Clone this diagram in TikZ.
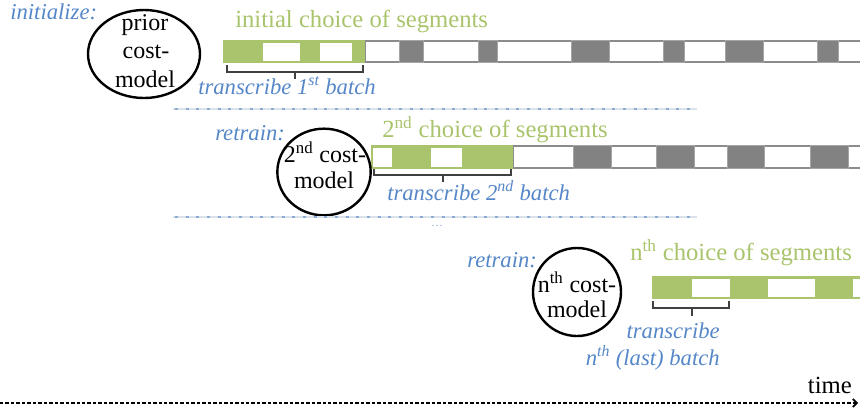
\documentclass[tikz,border=0pt]{standalone}
\usepackage{fontspec}
\setmainfont{Liberation Serif}
\usetikzlibrary{shapes.geometric,arrows.meta}
\definecolor{seggreen}{RGB}{169,196,108}
\definecolor{txtblue}{RGB}{85,135,200}
\definecolor{blockgray}{RGB}{130,130,130}
\definecolor{blockedge}{RGB}{165,165,165}
\definecolor{barline}{RGB}{140,140,140}
\definecolor{seplight}{RGB}{218,226,236}
\definecolor{sepdash}{RGB}{140,170,212}
\tikzset{
  lbl/.style={font=\fontsize{18.5}{21}\selectfont, inner sep=0pt, anchor=base west},
  bluelbl/.style={lbl, text=txtblue, font=\fontsize{17}{21}\selectfont\itshape},
  greenlbl/.style={lbl, text=seggreen},
  blacklbl/.style={font=\fontsize{18}{21}\selectfont, inner sep=0pt, anchor=base},
  costmodel/.style={draw=black, line width=1.8pt, ellipse, inner sep=0pt},
  grayblock/.style={fill=blockgray, draw=blockedge, line width=0.7pt},
  baroutline/.style={draw=barline, line width=1.5pt},
  bracepath/.style={draw=black!75, line width=0.8pt},
  sepbase/.style={draw=seplight, line width=1.3pt},
  sepdashes/.style={draw=sepdash, line width=1.3pt, dash pattern=on 2.2pt off 5.8pt},
  timeline/.style={draw=black, line width=0.8pt, dash pattern=on 2.6pt off 1.5pt,
    -{Straight Barb[length=3pt,width=6pt,line width=1.3pt]}}
}
\begin{document}
\begin{tikzpicture}[x=0.75pt,y=-0.75pt]
\useasboundingbox (0,0) rectangle (860,412);

% ---------- row 1 ----------
\fill[white] (364,40) rectangle (860,63);
\draw[baroutline] (860,41) -- (365,41) -- (365,62) -- (860,62);
\foreach \a/\b in {399/423,478/497,571/609,663/684,725/763,817/838}
  \draw[grayblock] (\a,40.5) rectangle (\b,62.5);
\fill[seggreen] (223,40) rectangle (365,63);
\fill[white] (263,43) rectangle (300,61);
\fill[white] (320,43) rectangle (352,61);
\draw[bracepath] (227,65) -- (227,72) -- (363,72) -- (363,65);
\draw[bracepath] (295,72) -- (295,79);

\node[bluelbl] (init) at (10,19) {initialize:};
\node[greenlbl] (ch1) at (235,27) {initial choice of segments};
\node[costmodel, minimum width=84pt, minimum height=66pt] (m1) at (144,54) {};
\node[blacklbl] (m1a) at (145,30) {prior};
\node[blacklbl] (m1b) at (146,58) {cost-};
\node[blacklbl] (m1c) at (145,87) {model};
\node[bluelbl] (tr1) at (198,94) {transcribe 1\textsuperscript{st} batch};

% separator 1
\draw[sepbase] (173,109) -- (697,109);
\draw[sepdashes] (175,109) -- (697,109);

% ---------- row 2 ----------
\fill[white] (512,145) rectangle (860,169);
\draw[baroutline] (860,146) -- (513,146) -- (513,168) -- (860,168);
\foreach \a/\b in {573/611,656/694,727/764,810/848}
  \draw[grayblock] (\a,145.5) rectangle (\b,168.5);
\fill[seggreen] (371,145) rectangle (513,169);
\fill[white] (373,148) rectangle (392,167);
\fill[white] (431,148) rectangle (462,167);
\draw[bracepath] (374,169) -- (374,175) -- (511,175) -- (511,169);
\draw[bracepath] (443,175) -- (443,182);

\node[bluelbl] (rt2) at (215,140) {retrain:};
\node[greenlbl] (ch2) at (382,137) {2\textsuperscript{nd} choice of segments};
\node[costmodel, minimum width=70pt, minimum height=65pt] (m2) at (324,172) {};
\node[blacklbl] (m2a) at (325,162) {2\textsuperscript{nd} cost-};
\node[blacklbl] (m2b) at (324,188) {model};
\node[bluelbl] (tr2) at (387,200) {transcribe 2\textsuperscript{nd} batch};

% separator 2
\draw[sepbase] (173,217) -- (697,217);
\draw[sepdashes] (175,217) -- (697,217);
\node[text=sepdash, font=\fontsize{9}{10}\selectfont, inner sep=0pt, anchor=base] (dots) at (437,226) {\dots};

% ---------- row n ----------
\fill[seggreen] (652,276) rectangle (860,299);
\fill[white] (692,279) rectangle (730,297);
\fill[white] (768,279) rectangle (815,297);
\fill[white] (853,279) rectangle (860,297);
\draw[bracepath] (653,301) -- (653,308) -- (729,308) -- (729,301);
\draw[bracepath] (692,308) -- (692,316);

\node[bluelbl] (rtn) at (467,267) {retrain:};
\node[greenlbl] (chn) at (630,260) {n\textsuperscript{th} choice of segments};
\node[costmodel, minimum width=66pt, minimum height=66pt] (mn) at (577,292) {};
\node[blacklbl] (mna) at (577,292) {n\textsuperscript{th} cost-};
\node[blacklbl] (mnb) at (577,317) {model};
\node[bluelbl, anchor=base east] (trn1) at (720,338) {transcribe};
\node[bluelbl, anchor=base east] (trn2) at (720,365) {n\textsuperscript{th} (last) batch};

% ---------- time axis ----------
\coordinate (t0) at (0,403);
\coordinate (t1) at (858,403);
\draw[timeline] (t0) -- (t1);
\node[lbl, anchor=base east] (time) at (852,393) {time};
\end{tikzpicture}
\end{document}
